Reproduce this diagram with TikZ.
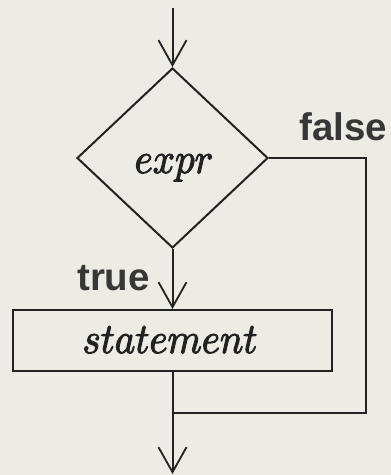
\documentclass[tikz,border=0pt]{standalone}
\usepackage{fontspec}
\usetikzlibrary{arrows.meta,shapes.geometric}
\newfontfamily\branchfont{Liberation Sans}
\definecolor{paper}{RGB}{237,236,228}
\definecolor{ink}{RGB}{34,34,34}
\definecolor{labelink}{RGB}{55,55,55}
% italic code words: set at 10pt with a light outline stroke, then enlarged
\newcommand{\codeword}[1]{\scalebox{3.9}[4.3]{\special{pdf:literal 2 Tr 0.25 w}$#1$\special{pdf:literal 0 Tr}}}
\begin{document}
\begin{tikzpicture}[x=1pt,y=-1pt,
  flow/.style={line width=2pt,draw=ink},
  tipped/.style={flow,-{Straight Barb[length=25pt,width=28pt,line width=1.8pt]}},
  decision/.style={diamond,flow,inner sep=0pt,minimum width=191pt,minimum height=180pt},
  process/.style={rectangle,flow,inner sep=0pt,minimum width=319pt,minimum height=61pt},
  code/.style={inner sep=0pt,text=ink,font=\fontsize{10}{12}\selectfont},
  branch/.style={inner sep=0pt,text=labelink,font=\branchfont\bfseries\fontsize{38.5}{46}\selectfont}]
  % page and paper tone
  \fill[paper] (0,0) rectangle (391,475);
  \useasboundingbox (0,0) rectangle (391,475);

  % shapes
  \node[decision] (cond) at (172.5,158) {};
  \node[code,anchor=base] (condtext) at (174,173) {\codeword{expr}};
  \node[process] (stmt) at (172.5,340.5) {};
  \node[code,anchor=base] (stmttext) at (170,353) {\codeword{statement}};

  % branch labels
  \node[branch,anchor=base west] (falselbl) at (299,140) {false};
  \node[branch,anchor=base west] (truelbl) at (77,290) {true};

  % free ends and the loop-back corner
  \coordinate (entry) at (172.5,8);
  \coordinate (corner) at (366,413);
  \coordinate (merge) at (172.5,413);
  \coordinate (exit) at (172.5,474);

  % connectors
  \draw[tipped] (entry) -- (cond.north);
  \draw[tipped] (cond.south) -- (stmt.north);
  \draw[flow] (cond.east) -| (corner) -- (merge);
  \draw[tipped] (stmt.south) -- (exit);
\end{tikzpicture}
\end{document}
